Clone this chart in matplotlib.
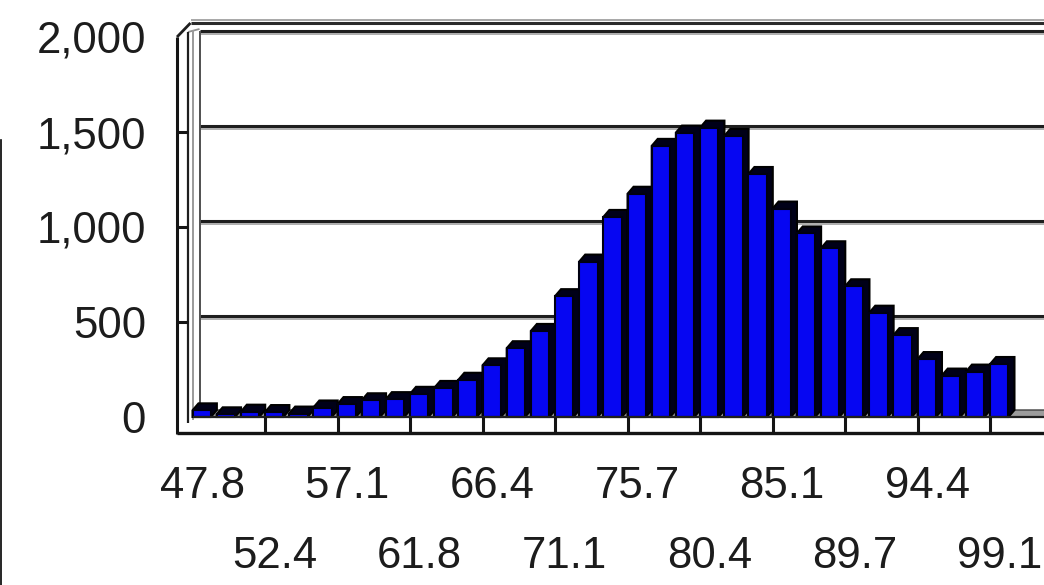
import numpy as np
import matplotlib
matplotlib.use("Agg")
import matplotlib.pyplot as plt
from matplotlib.transforms import IdentityTransform
from matplotlib.lines import Line2D
from matplotlib.patches import Polygon

# histogram counts, one bar per bin
counts = [35, 14, 28, 26, 18, 50, 68, 88, 94, 122, 153, 196,
          272, 362, 453, 636, 818, 1053, 1175, 1427, 1497, 1523, 1479, 1279,
          1097, 966, 888, 688, 549, 431, 305, 218, 239, 279]
# every third bin gets a label
bin_labels = ["47.8", "52.4", "57.1", "61.8", "66.4", "71.1",
              "75.7", "80.4", "85.1", "89.7", "94.4", "99.1"]
y_ticks = [0, 500, 1000, 1500, 2000]
label_step = 3

plt.rcParams['font.family'] = ['Liberation Sans', 'DejaVu Sans']

W, H = 1044, 585
fig = plt.figure(figsize=(W / 100, H / 100), dpi=100)
fig.patch.set_facecolor('white')

# front plane of the pseudo 3d box
ax = fig.add_axes([192.5 / W, 168 / H, 1 - 192.5 / W, 380 / H])
xmax = (W - 192.5) / 24.17
ax.set_xlim(0, xmax)
ax.set_ylim(0, 2000)
ax.set_facecolor('none')
for s in ax.spines.values():
    s.set_visible(False)

DX, DY = 6, 7        # depth offset of bars / back wall (pixels)
WALL = -15.5         # front edge of the left wall, relative to x=0
FLOOR = -16          # floor thickness below the front zero line


def px(x, v, ox=0, oy=0):
    X, Y = ax.transData.transform((x, v))
    return X + ox, Y + oy


def seg(p, q, **kw):
    ax.add_line(Line2D([p[0], q[0]], [p[1], q[1]], transform=IdentityTransform(),
                       clip_on=False, solid_capstyle='butt', **kw))


xr = xmax + 1

# back wall gridlines
for v in y_ticks[1:]:
    seg(px(0, v, DX + 1, DY - 1), px(xr, v, DX, DY - 1), color='#1e1e1e', lw=2.2, zorder=1)
    seg(px(0, v, DX + 1, DY - 4), px(xr, v, DX, DY - 4), color='#a8a8a8', lw=1.3, zorder=1)

# top edge of the walls
seg(px(0, 2000, -2, 14), px(xr, 2000, 0, 14), color='#2a2a2a', lw=2.2, zorder=1)
seg(px(0, 2000, -2, 17.5), px(xr, 2000, 0, 17.5), color='#a0a0a0', lw=1.3, zorder=1)
seg(px(0, 2000, WALL, 0), px(0, 2000, -2, 14), color='#1e1e1e', lw=2, zorder=1)
seg(px(0, 2000, -4.5, 5), px(0, 2000, DX + 1, DY + 1), color='#909090', lw=1.3, zorder=1)

# left wall
seg(px(0, 0, WALL, FLOOR - 1), px(0, 2000, WALL, 0), color='#141414', lw=2.2, zorder=1)
seg(px(0, 0, -4.5, -6), px(0, 2000, -4.5, 5), color='#1e1e1e', lw=1.6, zorder=1)
seg(px(0, 0, 0.5, -3), px(0, 2000, 0.5, 7), color='#9a9a9a', lw=1.4, zorder=1)
seg(px(0, 0, DX + 1, DY - 1), px(0, 2000, DX + 1, DY - 1), color='#505050', lw=1.4, zorder=1)
for v in y_ticks[1:-1]:
    seg(px(0, v, WALL, 0), px(0, v, -4.5, 0), color='#141414', lw=2.2, zorder=1)

# floor
floor_top = [px(0, 0), px(xr, 0), px(xr, 0, DX, DY), px(0, 0, DX, DY)]
ax.add_patch(Polygon(floor_top, closed=True, transform=IdentityTransform(),
                     facecolor='#9c9c9c', edgecolor='#404040', lw=1, zorder=1.5, clip_on=False))
seg(px(0, 0, WALL, FLOOR), px(xr, 0, 0, FLOOR), color='#141414', lw=2.4, zorder=4)
seg(px(0, 0), px(xr, 0), color='#202020', lw=1.6, zorder=4)
for i in range(label_step, len(counts) + 1, label_step):
    seg(px(i, 0), px(i, 0, 0, FLOOR), color='#141414', lw=2.2, zorder=4)

# bars: dark box behind, blue front face
w = 0.76
xs = np.arange(len(counts))
for x, v in zip(xs, counts):
    hull = [px(x, 0), px(x, v), px(x, v, DX, DY), px(x + w, v, DX, DY),
            px(x + w, 0, DX, DY), px(x + w, 0)]
    ax.add_patch(Polygon(hull, closed=True, transform=IdentityTransform(),
                         facecolor='#000018', edgecolor='black', lw=1.5, zorder=2, clip_on=False))
ax.bar(xs, counts, width=w, align='edge', color='#0606f2', edgecolor='#000010',
       linewidth=1.5, zorder=3)

# tick labels
ax.set_yticks(y_ticks, labels=[f"{v:,}" for v in y_ticks])
ax.tick_params(axis='y', length=0, pad=33.5, labelsize=31.5, labelcolor='#1c1c1c')

pos = [label_step * k + 0.4 for k in range(len(bin_labels))]
ax.set_xticks(pos[0::2], labels=bin_labels[0::2])
ax.set_xticks(pos[1::2], labels=bin_labels[1::2], minor=True)
ax.tick_params(axis='x', which='major', length=0, pad=35, labelsize=31.5, labelcolor='#1c1c1c')
ax.tick_params(axis='x', which='minor', length=0, pad=86, labelsize=31.5, labelcolor='#1c1c1c')

ax.set_xlim(0, xmax)
ax.set_ylim(0, 2000)

# frame line on the left edge of the image
fig.add_artist(Line2D([0.8, 0.8], [0, H - 140], transform=IdentityTransform(),
                      color='black', lw=1.2))

fig.savefig("out.png", dpi=100)
